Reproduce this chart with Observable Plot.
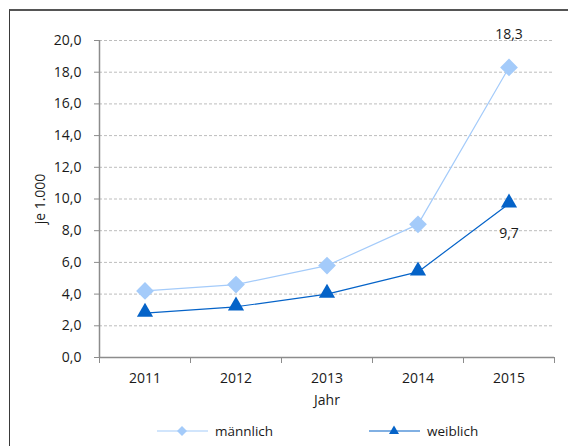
<!DOCTYPE html>
<html>
<head>
<meta charset="utf-8">
<script src="https://cdn.jsdelivr.net/npm/d3@7"></script>
<script src="https://cdn.jsdelivr.net/npm/@observablehq/plot@0.6"></script>
<style>
  html, body { margin: 0; padding: 0; background: #fff; }
  body { width: 568px; height: 446px; overflow: hidden; position: relative; font-family: "Open Sans", sans-serif; }
  #frame { position: absolute; left: 9px; top: 9px; width: 570px; height: 450px; border-left: 1px solid #3a3a3a; border-top: 2px solid #555; box-sizing: border-box; }
  #chart { position: absolute; left: 10px; top: 10px; }
  #legend { position: absolute; top: 421px; left: 0; width: 568px; height: 20px; font-size: 13.5px; color: #1a1a1a; }
  .item { position: absolute; top: 0; display: flex; align-items: center; height: 20px; }
  .item svg { margin-right: 6px; }
</style>
</head>
<body>
<div id="frame"></div>
<div id="chart"></div>
<div id="legend"></div>
<script>
const years = [2011, 2012, 2013, 2014, 2015];
const maennlich = [4.2, 4.6, 5.8, 8.4, 18.3];
const weiblich = [2.8, 3.2, 4.0, 5.4, 9.7];
const yTicks = [0, 2, 4, 6, 8, 10, 12, 14, 16, 18, 20];
const seriesNames = ["männlich", "weiblich"];
const colLight = "#a4cbfa";
const colDark = "#0563c8";

const fmt = d => d3.format(".1f")(d).replace(".", ",");
const dataM = years.map((y, i) => ({year: y, value: maennlich[i]}));
const dataW = years.map((y, i) => ({year: y, value: weiblich[i]}));
const boundaries = [years[0] - 0.5, ...years.map(y => y + 0.5)];

const chart = Plot.plot({
  width: 558,
  height: 405,
  marginLeft: 89,
  marginRight: 14,
  marginTop: 30,
  marginBottom: 58,
  style: {fontFamily: "Open Sans, sans-serif", fontSize: "14px", color: "#1a1a1a", background: "transparent"},
  x: {type: "linear", domain: [boundaries[0], boundaries[boundaries.length - 1]]},
  y: {domain: [0, 20]},
  marks: [
    Plot.ruleY(yTicks.filter(d => d > 0), {stroke: "#bdbdbd", strokeDasharray: "3,2", strokeWidth: 1}),
    Plot.axisY({ticks: yTicks, tickFormat: fmt, tickSize: 5, tickPadding: 13, stroke: "#8c8c8c", fontSize: 14,
      label: "je 1.000", labelAnchor: "center", labelArrow: "none", labelOffset: 64, fill: "#1a1a1a"}),
    Plot.axisX({ticks: boundaries, tickFormat: () => "", tickSize: 6, stroke: "#8c8c8c", label: null}),
    Plot.axisX({ticks: years, tickFormat: d => String(d), tickSize: 0, tickPadding: 16, fill: "#1a1a1a", fontSize: 14,
      label: "Jahr", labelAnchor: "center", labelArrow: "none", labelOffset: 47}),
    Plot.ruleX([boundaries[0]], {y1: 0, y2: 20, stroke: "#8c8c8c", strokeWidth: 1.5}),
    Plot.ruleY([0], {stroke: "#8c8c8c", strokeWidth: 1.5}),
    Plot.line(dataM, {x: "year", y: "value", stroke: colLight, strokeWidth: 1.2}),
    Plot.line(dataW, {x: "year", y: "value", stroke: colDark, strokeWidth: 1.2}),
    Plot.dot(dataM, {x: "year", y: "value", symbol: "diamond2", r: 8, fill: colLight, stroke: "none"}),
    Plot.dot(dataW, {x: "year", y: "value", symbol: "triangle", r: 6, fill: colDark, stroke: "none", dy: -1}),
    Plot.text(dataM.slice(-1), {x: "year", y: "value", text: d => fmt(d.value), dy: -33, fill: "#1a1a1a", fontSize: 14}),
    Plot.text(dataW.slice(-1), {x: "year", y: "value", text: d => fmt(d.value), dy: 30, fill: "#1a1a1a", fontSize: 14})
  ]
});
document.getElementById("chart").appendChild(chart);

// legend
const legend = document.getElementById("legend");
const items = [
  {name: seriesNames[0], color: colLight, left: 157, shape: "diamond"},
  {name: seriesNames[1], color: colDark, left: 369, shape: "triangle"}
];
for (const it of items) {
  const div = document.createElement("div");
  div.className = "item";
  div.style.left = it.left + "px";
  const shape = it.shape === "diamond"
    ? `<path d="M25,5 L30,10 L25,15 L20,10 Z" fill="${it.color}"/>`
    : `<path d="M25,4.5 L30,13 L20,13 Z" fill="${it.color}"/>`;
  div.innerHTML = `<svg width="52" height="20"><line x1="0" y1="10" x2="51" y2="10" stroke="${it.color}" stroke-width="1.2"/>${shape}</svg><span>${it.name}</span>`;
  legend.appendChild(div);
}
</script>
</body>
</html>
